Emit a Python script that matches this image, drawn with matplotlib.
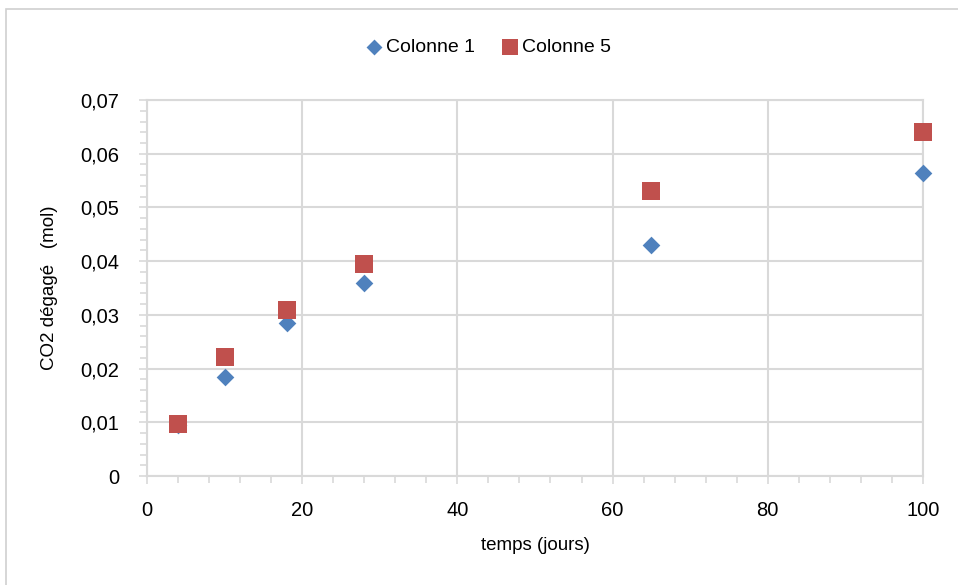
import matplotlib
matplotlib.use("Agg")
import matplotlib.pyplot as plt
from matplotlib.ticker import MultipleLocator, FuncFormatter
from matplotlib.patches import Rectangle

plt.rcParams['font.family'] = ['Liberation Sans', 'DejaVu Sans']

jours = [4, 10, 18, 28, 65, 100]
colonne1 = [0.0095, 0.0185, 0.0285, 0.036, 0.043, 0.0564]
colonne5 = [0.0097, 0.0222, 0.0309, 0.0395, 0.0531, 0.0641]
series_names = ["Colonne 1", "Colonne 5"]
xlabel = "temps (jours)"
ylabel = "CO2 dégagé   (mol)"

fig = plt.figure(figsize=(9.58, 5.85), dpi=100)
ax = fig.add_axes([0.1534, 0.1863, 0.81, 0.6427])

grid_c = '#d9d9d9'
ax.scatter(jours, colonne1, marker='D', s=9**2, color='#4F81BD', label=series_names[0],
           zorder=3, linewidths=0, clip_on=False)
ax.scatter(jours, colonne5, marker='s', s=12.5**2, color='#C0504D', label=series_names[1],
           zorder=4, linewidths=0, clip_on=False)

ax.set_xlim(0, 100)
ax.set_ylim(0, 0.07)
ax.xaxis.set_major_locator(MultipleLocator(20))
ax.xaxis.set_minor_locator(MultipleLocator(4))
ax.yaxis.set_major_locator(MultipleLocator(0.01))
ax.yaxis.set_minor_locator(MultipleLocator(0.002))
ax.yaxis.set_major_formatter(FuncFormatter(lambda v, p: "0" if abs(v) < 1e-9 else f"{v:.2f}".replace('.', ',')))
ax.xaxis.set_major_formatter(FuncFormatter(lambda v, p: f"{v:.0f}"))

ax.grid(True, which='major', color=grid_c, linewidth=1.5)
ax.set_axisbelow(True)
for s in ax.spines.values():
    s.set_color(grid_c)
    s.set_linewidth(1.5)
ax.tick_params(axis='both', which='both', direction='out', color=grid_c, width=1.2)
ax.tick_params(axis='both', which='major', length=6, labelsize=14.5, labelcolor='black')
ax.tick_params(axis='both', which='minor', length=5)
ax.tick_params(axis='x', pad=12)
ax.tick_params(axis='y', pad=14)

ax.set_xlabel(xlabel, fontsize=13.5, labelpad=12)
ax.set_ylabel(ylabel, fontsize=13.5, labelpad=16)

fig.legend(loc='center', bbox_to_anchor=(0.508, 0.92), ncol=2, frameon=False,
           fontsize=14, handletextpad=0.0, handlelength=1.2, columnspacing=1.2,
           markerscale=0.9)

fig.patches.append(Rectangle((0.006, -0.05), 1.1, 1.035, transform=fig.transFigure,
                             fill=False, edgecolor='#d0d0d0', linewidth=1.2))

fig.savefig("out.png", dpi=100)
